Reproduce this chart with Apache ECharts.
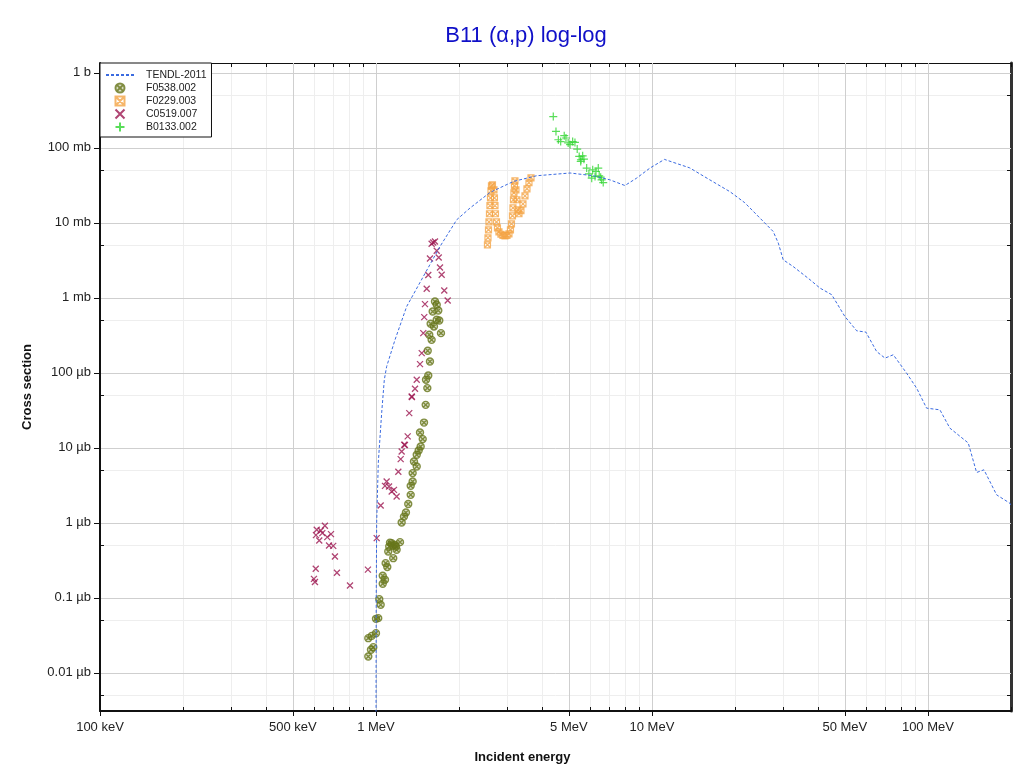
<!DOCTYPE html>
<html>
<head>
<meta charset="utf-8">
<title>B11 (α,p) log-log</title>
<script src="https://cdn.jsdelivr.net/npm/echarts@6.0.0/dist/echarts.min.js"></script>
<style>
  html, body { margin: 0; padding: 0; background: #fff; }
  #chart { width: 1020px; height: 773px; }
</style>
</head>
<body>
<div id="chart"></div>
<script>
// 눈금 / 라벨 (x: MeV, y: mb)
const xLabelTicks = [0.1, 0.5, 1, 5, 10, 50, 100];
const xLabelTexts = ['100 keV', '500 keV', '1 MeV', '5 MeV', '10 MeV', '50 MeV', '100 MeV'];
const xAllTicks = [0.1, 0.2, 0.3, 0.4, 0.5, 0.6, 0.7, 0.8, 0.9,
  1, 2, 3, 4, 5, 6, 7, 8, 9, 10, 20, 30, 40, 50, 60, 70, 80, 90, 100, 200];
const yLabelTicks = [1e-5, 1e-4, 1e-3, 1e-2, 0.1, 1, 10, 100, 1000];
const yLabelTexts = ['0.01 µb', '0.1 µb', '1 µb', '10 µb', '100 µb', '1 mb', '10 mb', '100 mb', '1 b'];
const yAllTicks = [5e-6, 1e-5, 5e-5, 1e-4, 5e-4, 1e-3, 5e-3, 1e-2, 5e-2, 0.1, 0.5,
  1, 5, 10, 50, 100, 500, 1000];

// TENDL-2011 평가값 [MeV, mb]
const tendl = [
  [1.0, 1e-7], [1.0008, 8.1e-6], [1.002, 9.4e-5], [1.0059, 1.0e-3], [1.0194, 6.3e-3],
  [1.0487, 0.0293], [1.072, 0.0807], [1.093, 0.121], [1.172, 0.275], [1.292, 0.766],
  [1.484, 1.92], [1.706, 4.83], [1.961, 10.96], [2.19, 15.7], [2.59, 25.4],
  [3.15, 35.6], [3.82, 42.4], [5.05, 46.1], [6.13, 42.4], [7.04, 37.4],
  [7.98, 31.4], [8.80, 39.4], [9.83, 53.6], [11.1, 70], [13.7, 54],
  [16.2, 37.4], [19.2, 25.9], [21.7, 18.5], [24.6, 11.6], [27.5, 7.66],
  [28.7, 5.36], [29.9, 3.21], [32.5, 2.61], [37.4, 1.74], [40.6, 1.35],
  [44.8, 1.10], [50.0, 0.564], [55.2, 0.363], [59.6, 0.349], [65.2, 0.192],
  [69.9, 0.157], [74.9, 0.174], [83.7, 0.099], [91.0, 0.0625], [98.9, 0.0338],
  [110.5, 0.0321], [120.1, 0.0183], [140, 0.0116], [150.1, 0.00469], [159.6, 0.00509],
  [177.4, 0.00236], [198, 0.00183], [200, 0.0017]
];

// EXFOR 측정값 [MeV, mb]
const f0538 = [
  [0.938, 1.65e-5], [0.959, 2.03e-5], [0.978, 2.20e-5], [0.938, 2.90e-5], [0.965, 3.11e-5],
  [1.000, 3.38e-5], [1.000, 5.25e-5], [1.019, 5.36e-5], [1.040, 8.07e-5], [1.028, 9.6e-5],
  [1.058, 1.54e-4], [1.078, 1.74e-4], [1.058, 1.97e-4], [1.099, 2.57e-4], [1.084, 2.90e-4],
  [1.155, 3.38e-4], [1.108, 4.14e-4], [1.188, 4.37e-4], [1.117, 4.83e-4], [1.182, 4.83e-4],
  [1.155, 4.93e-4], [1.172, 5.09e-4], [1.140, 5.36e-4], [1.124, 5.45e-4], [1.222, 5.53e-4],
  [1.239, 1.01e-3], [1.263, 1.21e-3], [1.284, 1.37e-3], [1.309, 1.78e-3], [1.336, 2.36e-3],
  [1.336, 3.11e-3], [1.358, 3.56e-3], [1.358, 4.60e-3], [1.405, 5.63e-3], [1.373, 6.56e-3],
  [1.405, 8.07e-3], [1.428, 9.2e-3], [1.452, 0.0104], [1.477, 0.01306], [1.444, 0.0160],
  [1.493, 0.0217], [1.514, 0.0374], [1.535, 0.0625], [1.518, 0.0807], [1.547, 0.0920],
  [1.569, 0.1415], [1.540, 0.197], [1.591, 0.275], [1.560, 0.321], [1.720, 0.338],
  [1.622, 0.414], [1.578, 0.450], [1.696, 0.498], [1.660, 0.509], [1.605, 0.656],
  [1.682, 0.677], [1.660, 0.807], [1.636, 0.893]
];

const f0229 = [
  [2.535, 5.09], [2.546, 6.31], [2.557, 8.07], [2.567, 10.3], [2.578, 13.2],
  [2.588, 16.9], [2.600, 21.5], [2.611, 26.7], [2.621, 31.1], [2.643, 32.1],
  [2.676, 27.5], [2.687, 21.5], [2.699, 16.9], [2.710, 13.2], [2.733, 10.3],
  [2.755, 8.58], [2.790, 7.59], [2.837, 7.03], [2.885, 6.81], [2.934, 6.71],
  [2.983, 6.81], [3.033, 7.13], [3.071, 8.07], [3.097, 9.70], [3.123, 12.4],
  [3.136, 15.8], [3.149, 20.3], [3.162, 25.1], [3.175, 31.1], [3.188, 36.3],
  [3.215, 27.5], [3.242, 20.3], [3.269, 14.9], [3.297, 13.2], [3.352, 14.5],
  [3.409, 17.9], [3.467, 22.9], [3.525, 28.4], [3.584, 34.2], [3.645, 39.8]
];

const c0519 = [
  [0.653, 9.12e-4], [0.610, 8.07e-4], [0.631, 7.89e-4], [0.639, 7.29e-4], [0.606, 6.85e-4],
  [0.687, 7.07e-4], [0.666, 6.45e-4], [0.623, 5.81e-4], [0.676, 4.98e-4], [0.700, 4.93e-4],
  [0.710, 3.56e-4], [0.605, 2.44e-4], [0.722, 2.16e-4], [0.596, 1.79e-4], [0.601, 1.63e-4],
  [0.805, 1.46e-4], [0.935, 2.38e-4], [1.006, 6.25e-4], [1.040, 1.70e-3], [1.093, 3.56e-3],
  [1.078, 3.11e-3], [1.115, 3.05e-3], [1.140, 2.61e-3], [1.162, 2.75e-3], [1.188, 2.24e-3],
  [1.205, 4.79e-3], [1.229, 7.07e-3], [1.239, 8.93e-3], [1.266, 0.0110], [1.273, 0.0109],
  [1.303, 0.0142], [1.320, 0.0290], [1.347, 0.0483], [1.350, 0.0474], [1.385, 0.0612],
  [1.405, 0.0807], [1.444, 0.1306], [1.465, 0.183], [1.484, 0.338], [1.496, 0.553],
  [1.505, 0.824], [1.527, 1.318], [1.547, 2.01], [1.569, 3.34], [1.591, 5.25],
  [1.612, 5.46], [1.636, 5.64], [1.660, 4.23], [1.688, 3.45], [1.706, 2.54],
  [1.730, 2.03], [1.768, 1.25], [1.819, 0.92]
];

const b0133 = [
  [4.39, 261], [4.49, 165], [4.58, 128], [4.67, 121], [4.81, 145],
  [4.88, 135], [4.97, 116], [5.05, 110], [5.16, 121], [5.26, 118],
  [5.36, 96], [5.45, 76.6], [5.61, 78.2], [5.53, 69.2], [5.67, 70.6],
  [5.52, 65.6], [5.80, 53.6], [5.91, 45.0], [6.10, 50.9], [6.27, 48.3],
  [6.39, 53.6], [6.22, 41.4], [6.44, 42.4], [6.52, 40.6], [6.57, 37.4],
  [6.66, 34.4], [6.05, 39.4]
];

const FONT = '"Liberation Sans", Arial, Helvetica, sans-serif';

function pickLabel(v, ticks, texts) {
  for (let i = 0; i < ticks.length; i++) {
    if (Math.abs(Math.log10(v) - Math.log10(ticks[i])) < 1e-6) return texts[i];
  }
  return '';
}

const chart = echarts.init(document.getElementById('chart'));

const xBase = { type: 'log', logBase: 10, min: 0.1, max: 200, gridIndex: 0 };
const yBase = { type: 'log', logBase: 10, min: 3.1e-6, max: 1350, gridIndex: 0 };

const option = {
  animation: false,
  backgroundColor: '#fff',
  textStyle: { fontFamily: FONT },
  title: {
    text: 'B11 (α,p) log-log',
    left: 521,
    textAlign: 'center',
    top: 20,
    textStyle: { fontSize: 22, fontWeight: 'normal', color: '#1010c8', fontFamily: FONT }
  },
  legend: {
    data: [
      // 선 범례에는 기호 없이 점선만
      { name: 'TENDL-2011', itemStyle: { color: 'rgba(0,0,0,0)', borderColor: 'rgba(0,0,0,0)', borderWidth: 0 } },
      'F0538.002', 'F0229.003', 'C0519.007', 'B0133.002'
    ],
    orient: 'vertical',
    left: 100,
    top: 63,
    itemWidth: 28,
    itemHeight: 9,
    itemGap: 1,
    padding: [6, 5, 4, 5],
    backgroundColor: '#fff',
    borderColor: '#111',
    borderWidth: 1,
    borderRadius: 0,
    z: 10,
    textStyle: { fontSize: 10.5, lineHeight: 12, color: '#222', fontFamily: FONT, padding: [0, 0, 0, 7] }
  },
  grid: { left: 100, right: 9, top: 63, bottom: 62, outerBoundsMode: 'none' },
  xAxis: [
    Object.assign({}, xBase, {
      position: 'bottom',
      z: 1,
      name: 'Incident energy',
      nameLocation: 'middle',
      nameGap: 40,
      nameTextStyle: { fontSize: 13, fontWeight: 'bold', color: '#111', fontFamily: FONT, padding: [0, 66, 0, 0] },
      axisLine: { show: true, onZero: false, lineStyle: { color: '#111', width: 2 } },
      axisTick: { show: true, inside: false, length: 5, customValues: xLabelTicks, lineStyle: { color: '#111' } },
      axisLabel: {
        customValues: xLabelTicks,
        formatter: function (v) { return pickLabel(v, xLabelTicks, xLabelTexts); },
        fontSize: 13, color: '#222', margin: 10, fontFamily: FONT
      },
      splitLine: { show: true, lineStyle: { color: '#cfcfcf', width: 1 } }
    }),
    Object.assign({}, xBase, {
      position: 'bottom',
      z: 0,
      axisLine: { show: false },
      axisTick: { show: true, inside: true, length: 4, customValues: xAllTicks, lineStyle: { color: '#111' } },
      axisLabel: { show: false },
      splitLine: { show: true, lineStyle: { color: '#eeeeee', width: 1 } }
    }),
    Object.assign({}, xBase, {
      position: 'top',
      axisLine: { show: true, onZero: false, lineStyle: { color: '#111', width: 1 } },
      axisTick: { show: true, inside: true, length: 4, customValues: xAllTicks, lineStyle: { color: '#111' } },
      axisLabel: { show: false },
      splitLine: { show: false }
    })
  ],
  yAxis: [
    Object.assign({}, yBase, {
      position: 'left',
      z: 1,
      name: 'Cross section',
      nameLocation: 'middle',
      nameGap: 66,
      nameRotate: 90,
      nameTextStyle: { fontSize: 13, fontWeight: 'bold', color: '#111', fontFamily: FONT },
      axisLine: { show: true, onZero: false, lineStyle: { color: '#111', width: 2 } },
      axisTick: { show: true, inside: false, length: 6, customValues: yLabelTicks, lineStyle: { color: '#111' } },
      axisLabel: {
        customValues: yLabelTicks,
        formatter: function (v) { return pickLabel(v, yLabelTicks, yLabelTexts); },
        fontSize: 13, color: '#222', margin: 9, fontFamily: FONT
      },
      splitLine: { show: true, lineStyle: { color: '#cfcfcf', width: 1 } }
    }),
    Object.assign({}, yBase, {
      position: 'left',
      z: 0,
      axisLine: { show: false },
      axisTick: { show: true, inside: true, length: 4, customValues: yAllTicks, lineStyle: { color: '#111' } },
      axisLabel: { show: false },
      splitLine: { show: true, lineStyle: { color: '#eeeeee', width: 1 } }
    }),
    Object.assign({}, yBase, {
      position: 'right',
      axisLine: { show: true, onZero: false, lineStyle: { color: '#333', width: 3 } },
      axisTick: { show: true, inside: true, length: 4, customValues: yAllTicks, lineStyle: { color: '#111' } },
      axisLabel: { show: false },
      splitLine: { show: false }
    })
  ],
  series: [
    {
      name: 'TENDL-2011',
      type: 'line',
      data: tendl,
      showSymbol: false,
      symbol: 'none',
      lineStyle: { color: '#3b6be0', width: 1, type: [3, 2] },
      itemStyle: { color: '#3b6be0' },
      z: 3
    },
    {
      name: 'F0538.002',
      type: 'scatter',
      data: f0538,
      symbol: 'path://M10,0A10,10,0,1,1,10,20A10,10,0,1,1,10,0Z M3,3L17,17M17,3L3,17',
      symbolSize: 7,
      itemStyle: { color: 'rgba(107,122,28,0.3)', borderColor: '#66761a', borderWidth: 1.4 }
    },
    {
      name: 'F0229.003',
      type: 'scatter',
      data: f0229,
      symbol: 'path://M0,0H10V10H0Z M0,0L10,10M10,0L0,10',
      symbolSize: 6,
      itemStyle: { color: 'rgba(255,255,255,0)', borderColor: '#f4a445', borderWidth: 1.2 }
    },
    {
      name: 'C0519.007',
      type: 'scatter',
      data: c0519,
      symbol: 'path://M0,0L10,10M10,0L0,10',
      symbolSize: 6,
      itemStyle: { color: 'rgba(255,255,255,0)', borderColor: '#9c1650', borderWidth: 1.3 }
    },
    {
      name: 'B0133.002',
      type: 'scatter',
      data: b0133,
      symbol: 'path://M5,0V10M0,5H10',
      symbolSize: 8,
      itemStyle: { color: 'rgba(255,255,255,0)', borderColor: '#2fd42f', borderWidth: 1.2 }
    }
  ]
};

chart.setOption(option);

window.addEventListener('resize', function () {
  chart.resize();
});
</script>
</body>
</html>
